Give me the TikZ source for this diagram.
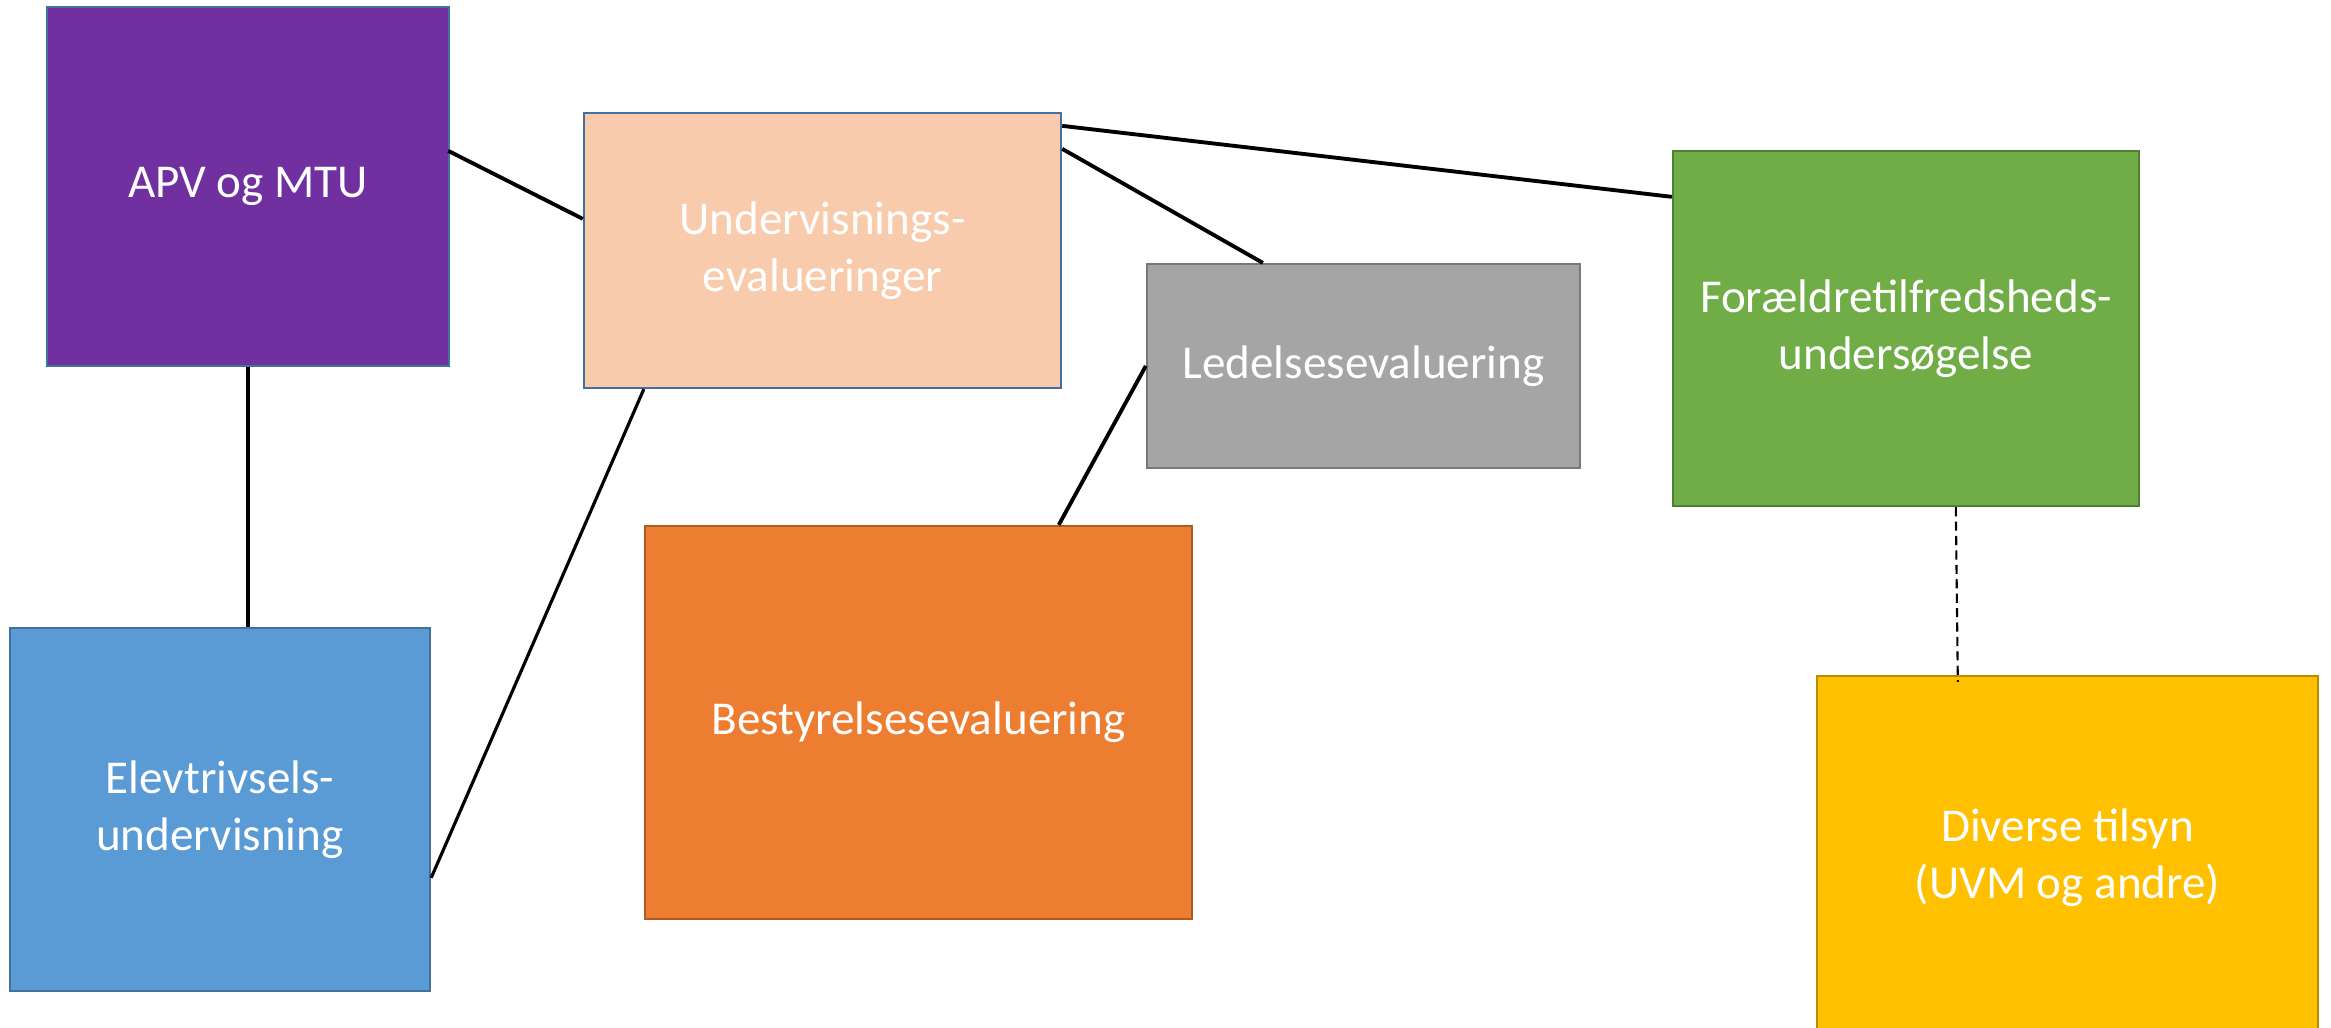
\documentclass[tikz,border=0pt]{standalone}
\usepackage{fontspec}
\setmainfont{Carlito}
\usetikzlibrary{calc}
\definecolor{cpurple}{HTML}{7030A0}
\definecolor{cpeach}{HTML}{F8CBAD}
\definecolor{cgray}{HTML}{A5A5A5}
\definecolor{cgreen}{HTML}{70AD47}
\definecolor{corange}{HTML}{ED7D31}
\definecolor{cyellow}{HTML}{FFC000}
\definecolor{cblue}{HTML}{5B9BD5}
\definecolor{bblue}{HTML}{41719C}
\definecolor{bgray}{HTML}{787878}
\definecolor{bgreen}{HTML}{507E32}
\definecolor{borange}{HTML}{AE5A21}
\definecolor{byellow}{HTML}{BC8C00}
\tikzset{
  boxnode/.style={rectangle, line width=0.6pt, text=white, align=center,
    inner sep=0pt, font=\fontsize{13.4}{16.2}\selectfont},
  link/.style={line width=1.1pt, black},
  thinlink/.style={line width=0.9pt, black},
  dashlink/.style={line width=0.6pt, black, dash pattern=on 2.6pt off 1.5pt}
}
\begin{document}
\begin{tikzpicture}[x=0.01cm, y=-0.01cm]
\useasboundingbox (0,0) rectangle (2331,1028);
\clip (0,0) rectangle (2331,1028);
\fill[white] (0,0) rectangle (2331,1028);

\node[boxnode, fill=cpurple, draw=bblue, minimum width=4.02cm, minimum height=3.59cm] (apv) at (248,186.5) {APV og MTU};
\node[boxnode, fill=cpeach, draw=bblue, minimum width=4.77cm, minimum height=2.75cm] (und) at (822.5,250.5) {Undervisnings-\\evalueringer};
\node[boxnode, fill=cgray, draw=bgray, minimum width=4.33cm, minimum height=2.04cm] (led) at (1363.5,366) {Ledelsesevaluering};
\node[boxnode, fill=cgreen, draw=bgreen, minimum width=4.66cm, minimum height=3.55cm] (for) at (1906,328.5) {Forældretilfredsheds-\\undersøgelse};
\node[boxnode, fill=cblue, draw=bblue, minimum width=4.20cm, minimum height=3.63cm] (elev) at (220,809.5) {Elevtrivsels-\\undervisning};
\node[boxnode, fill=corange, draw=borange, minimum width=5.47cm, minimum height=3.93cm] (best) at (918.5,722.5) {Bestyrelsesevaluering};
\node[boxnode, fill=cyellow, draw=byellow, minimum width=5.01cm, minimum height=3.64cm] (div) at (2067.5,858) {Diverse tilsyn\\(UVM og andre)};

\draw[link] ($(apv.north east)+(-2,145)$) -- ($(und.north west)+(0,107)$);
\draw[link] (apv.south) -- (apv.south |- elev.north);
\draw[thinlink] ($(und.south west)+(61,0)$) -- ($(elev.north east)+(0,251)$);
\draw[link] ($(und.north east)+(0,14)$) -- ($(for.north west)+(0,47)$);
\draw[link] ($(und.north east)+(0,37)$) -- ($(led.north west)+(117,0)$);
\draw[link] ($(led.north west)+(0,103)$) -- ($(best.north west)+(415,0)$);
\draw[dashlink] ($(for.south west)+(284,0)$) -- ($(div.north west)+(142,7)$);
\end{tikzpicture}
\end{document}
